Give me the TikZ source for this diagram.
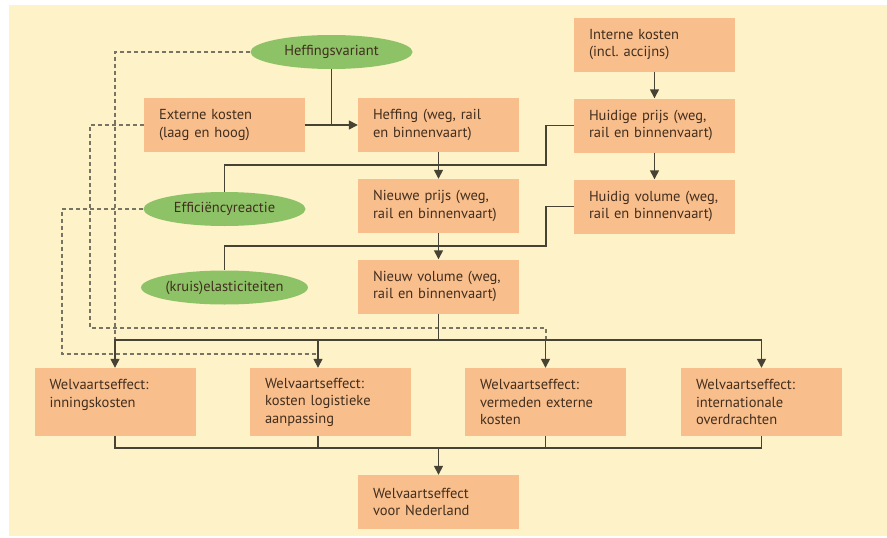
\documentclass[tikz,border=0pt]{standalone}
\usepackage{fontspec}
\setmainfont{PT Sans}
\usetikzlibrary{shapes,arrows,arrows.meta}

\definecolor{bgcream}{RGB}{254,242,200}
\definecolor{boxorange}{RGB}{248,190,140}
\definecolor{ovalgreen}{RGB}{141,194,103}
\definecolor{inkbrown}{RGB}{66,46,30}
\definecolor{linegray}{RGB}{70,66,52}
\definecolor{dashgray}{RGB}{120,116,100}

\tikzset{
  box/.style={rectangle, fill=boxorange, minimum width=161pt, minimum height=54pt,
    text width=131pt, inner xsep=15pt, inner ysep=0pt, align=left, text=inkbrown,
    font=\fontsize{14.5}{17.5}\selectfont},
  wbox/.style={box, minimum height=68pt},
  oval/.style={ellipse, fill=ovalgreen, minimum width=162pt, minimum height=34pt,
    inner sep=0pt, text=inkbrown, font=\fontsize{14.5}{17.5}\selectfont},
  link/.style={draw=linegray, line width=1.4pt},
  flow/.style={link, -{Triangle[width=9pt,length=9pt]}},
  dashlink/.style={draw=dashgray, line width=1.1pt, dash pattern=on 4pt off 3pt},
}

\begin{document}
\frenchspacing
\begin{tikzpicture}[x=1pt,y=-1pt]
    \useasboundingbox (0,0) rectangle (887,538);
    
    %Shape: Background
    \fill[white] (0,0) rectangle (887,538);
    \fill[bgcream] (9,5) rectangle (887,536);
    
    %Shape: Ellipse
    \node[oval] (heffvar) at (331.5,52) {Heffingsvariant};
    \node[oval] (effic) at (224.5,209) {Efficiëncyreactie};
    \node[oval] (kruis) at (224.5,287.5) {(kruis)elasticiteiten};
    
    %Shape: Rectangle
    \node[box] (extern) at (224.5,125) {Externe kosten\\(laag en hoog)};
    \node[box] (heffing) at (438.5,125) {Heffing (weg, rail\\en binnenvaart)};
    \node[box] (intern) at (654.5,44.5) {Interne kosten\\(incl. accijns)};
    \node[box] (hprijs) at (654.5,125.5) {Huidige prijs (weg,\\rail en binnenvaart)};
    \node[box] (hvolume) at (654.5,206.5) {Huidig volume (weg,\\rail en binnenvaart)};
    \node[box] (nprijs) at (438.5,206) {Nieuwe prijs (weg,\\rail en binnenvaart)};
    \node[box] (nvolume) at (438.5,286.5) {Nieuw volume (weg,\\rail en binnenvaart)};
    
    %Shape: Rectangle (welvaartseffecten)
    \node[wbox] (winning) at (115,402) {Welvaartseffect:\\inningskosten\\\mbox{}};
    \node[wbox] (wlogist) at (330.5,402) {Welvaartseffect:\\kosten logistieke\\aanpassing};
    \node[wbox] (wextern) at (545.5,402) {Welvaartseffect:\\vermeden externe\\kosten};
    \node[wbox] (wintern) at (761.5,402) {Welvaartseffect:\\internationale\\overdrachten};
    \node[box] (wnl) at (438.5,502) {Welvaartseffect\\voor Nederland};
    
    %Straight Lines: dashed
    \draw[dashlink] (heffvar.west) -| (115,340);
    \draw[dashlink] (extern.west) -| (90,328) -- (546,328) -- (546,340);
    \draw[dashlink] (effic.west) -| (62,354) -- (318,354);
    
    %Straight Lines
    \coordinate (hvjoin) at (heffvar.south |- extern.east);
    \draw[link] (heffvar.south) -- (hvjoin);
    \draw[flow] (extern.east) -- (heffing.west);
    \draw[flow] (intern.south) -- (hprijs.north);
    \draw[flow] (hprijs.south) -- (hvolume.north);
    \draw[flow] (heffing.south) -- (nprijs.north);
    \draw[flow] (nprijs.south) -- (nvolume.north);
    \draw[link] (hprijs.west) -| (546,165) -| (effic.north);
    \draw[link] (hvolume.west) -| (546,246) -| (kruis.north);
    
    \coordinate (split) at (438.5,340);
    \coordinate (merge) at (438.5,448);
    \draw[link] (nvolume.south) -- (split);
    \draw[flow] (split) -| (winning.north);
    \draw[flow] (split) -| ([xshift=-12.5pt]wlogist.north);
    \draw[flow] (split) -| (wextern.north);
    \draw[flow] (split) -| (wintern.north);
    \draw[link] (winning.south) |- (merge);
    \draw[link] ([xshift=-12.5pt]wlogist.south) |- (merge);
    \draw[link] (wextern.south) |- (merge);
    \draw[link] (wintern.south) |- (merge);
    \draw[flow] (merge) -- (wnl.north);
    
\end{tikzpicture}
\end{document}
